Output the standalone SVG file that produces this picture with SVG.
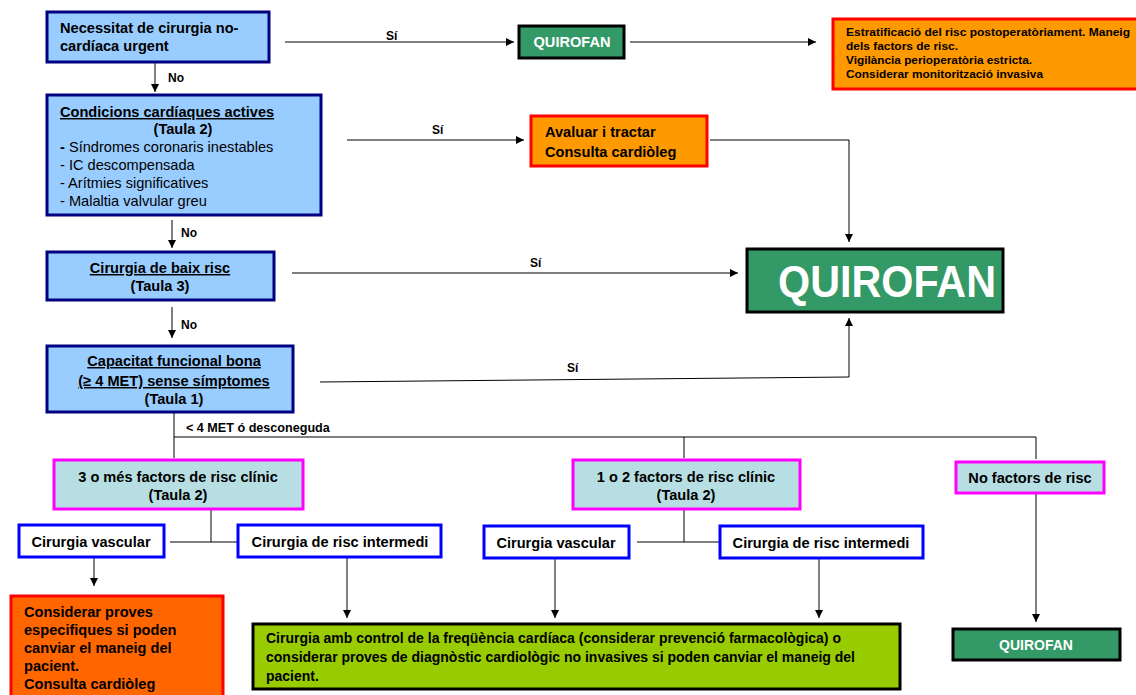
<svg xmlns="http://www.w3.org/2000/svg" width="1136" height="695" viewBox="0 0 1136 695">
<defs>
<marker id="ah" viewBox="0 0 10 10" refX="10" refY="5" markerWidth="8" markerHeight="8" markerUnits="userSpaceOnUse" orient="auto">
<path d="M0,0 L10,5 L0,10 z" fill="#000"/>
</marker>
<style>
text{font-family:"Liberation Sans",Arial,sans-serif;font-size:14.6px;font-weight:bold;fill:#000}
.c{text-anchor:middle}
.r{font-weight:normal}
.u{text-decoration:underline}
.lbl{font-size:12px}
.w{fill:#fff}
.blue{fill:#99CCFF;stroke:#000080;stroke-width:3}
.pink{fill:#B7DFE3;stroke:#FF00FF;stroke-width:3}
.wb{fill:#fff;stroke:#0000FF;stroke-width:3}
.grn{fill:#339966;stroke:#000;stroke-width:3}
.or{fill:#FF9900;stroke:#FF0000;stroke-width:3}
.or2{fill:#FF6600;stroke:#FF0000;stroke-width:3}
.lime{fill:#99CC00;stroke:#000;stroke-width:3}
.ln{fill:none;stroke:#000;stroke-width:1}
.arr{fill:none;stroke:#000;stroke-width:1;marker-end:url(#ah)}
</style>
</defs>
<rect width="1136" height="695" fill="#fff"/>

<g id="connectors">
<line class="arr" x1="155" y1="58" x2="155" y2="92"/>
<line class="arr" x1="285" y1="42" x2="514" y2="42"/>
<line class="arr" x1="630" y1="42" x2="816" y2="42"/>
<line class="arr" x1="347" y1="140" x2="524" y2="140"/>
<polyline class="arr" points="710,140 849,140 849,242"/>
<line class="arr" x1="172" y1="220" x2="172" y2="248"/>
<line class="arr" x1="292" y1="273" x2="738" y2="273"/>
<line class="arr" x1="172" y1="307" x2="172" y2="338"/>
<polyline class="arr" points="320,382 849,377 849,318"/>
<line class="ln" x1="174" y1="413" x2="174" y2="458"/>
<line class="ln" x1="174" y1="437" x2="1036" y2="437"/>
<line class="ln" x1="684" y1="437" x2="684" y2="458"/>
<line class="ln" x1="1036" y1="437" x2="1036" y2="459"/>
<line class="ln" x1="211" y1="510" x2="211" y2="542"/>
<line class="ln" x1="170" y1="542" x2="237" y2="542"/>
<line class="ln" x1="684" y1="510" x2="684" y2="542"/>
<line class="ln" x1="637" y1="542" x2="719" y2="542"/>
<line class="arr" x1="94" y1="558" x2="94" y2="586"/>
<line class="arr" x1="347" y1="558" x2="347" y2="618"/>
<line class="arr" x1="555" y1="558" x2="555" y2="618"/>
<line class="arr" x1="819" y1="558" x2="819" y2="618"/>
<line class="arr" x1="1036" y1="494" x2="1036" y2="622"/>
<text class="lbl" x="168" y="82">No</text>
<text class="lbl" x="386" y="40">Sí</text>
<text class="lbl" x="432" y="134">Sí</text>
<text class="lbl" x="181" y="237">No</text>
<text class="lbl" x="530" y="267">Sí</text>
<text class="lbl" x="181" y="329">No</text>
<text class="lbl" x="567" y="372">Sí</text>
<text class="lbl" x="186" y="432" style="font-size:12.6px">&lt; 4 MET ó desconeguda</text>
</g>

<g id="n1">
<rect class="blue" x="47" y="12" width="222" height="50"/>
<text x="60" y="33">Necessitat de cirurgia no-</text>
<text x="60" y="51">cardíaca urgent</text>
</g>

<g id="n2">
<rect class="blue" x="47" y="95" width="274" height="120"/>
<text class="u" x="60" y="117">Condicions cardíaques actives</text>
<text class="c" x="183" y="134">(Taula 2)</text>
<text x="60" y="152">- <tspan class="r">Síndromes coronaris inestables</tspan></text>
<text class="r" x="60" y="170">- IC descompensada</text>
<text class="r" x="60" y="188">- Arítmies significatives</text>
<text class="r" x="60" y="206">- Malaltia valvular greu</text>
</g>

<g id="q1">
<rect class="grn" x="519" y="26" width="105" height="32"/>
<text class="w c" x="572" y="47">QUIROFAN</text>
</g>

<g id="o1">
<rect class="or" x="833" y="19" width="310" height="70"/>
<text x="846" y="36" style="font-size:11px" textLength="284" lengthAdjust="spacingAndGlyphs">Estratificació del risc postoperatòriament.  Maneig</text>
<text x="846" y="50" style="font-size:11px" textLength="112" lengthAdjust="spacingAndGlyphs">dels factors de risc.</text>
<text x="846" y="64" style="font-size:11px" textLength="186" lengthAdjust="spacingAndGlyphs">Vigilància perioperatòria estricta.</text>
<text x="846" y="78" style="font-size:11px" textLength="197" lengthAdjust="spacingAndGlyphs">Considerar monitorització invasiva</text>
</g>

<g id="o2">
<rect class="or" x="531" y="116" width="176" height="50"/>
<text x="545" y="137">Avaluar i tractar</text>
<text x="545" y="157">Consulta cardiòleg</text>
</g>

<g id="n3">
<rect class="blue" x="47" y="252" width="227" height="48"/>
<text class="c u" x="160" y="273">Cirurgia de baix risc</text>
<text class="c" x="160" y="291">(Taula 3)</text>
</g>

<g id="qbig">
<rect class="grn" x="747" y="249" width="256" height="63"/>
<text class="w c" x="887" y="297" style="font-size:44px" textLength="218" lengthAdjust="spacingAndGlyphs">QUIROFAN</text>
</g>

<g id="n4">
<rect class="blue" x="47" y="346" width="246" height="66"/>
<text class="c u" x="174" y="366">Capacitat funcional bona</text>
<text class="c u" x="174" y="386">(≥ 4 MET) sense símptomes</text>
<text class="c" x="174" y="404">(Taula 1)</text>
</g>

<g id="p1">
<rect class="pink" x="54" y="460" width="249" height="49"/>
<text class="c" x="178" y="482">3 o més factors de risc clínic</text>
<text class="c" x="178" y="500">(Taula 2)</text>
</g>

<g id="p2">
<rect class="pink" x="573" y="460" width="227" height="49"/>
<text class="c" x="686" y="482">1 o 2 factors de risc clínic</text>
<text class="c" x="686" y="500">(Taula 2)</text>
</g>

<g id="p3">
<rect class="pink" x="956" y="462" width="148" height="31"/>
<text class="c" x="1030" y="483">No factors de risc</text>
</g>

<g id="v1">
<rect class="wb" x="19" y="525" width="145" height="32"/>
<text class="c" x="91" y="547">Cirurgia vascular</text>
</g>
<g id="i1">
<rect class="wb" x="238" y="525" width="203" height="32"/>
<text class="c" x="340" y="547">Cirurgia de risc intermedi</text>
</g>
<g id="v2">
<rect class="wb" x="484" y="526" width="145" height="32"/>
<text class="c" x="556" y="548">Cirurgia vascular</text>
</g>
<g id="i2">
<rect class="wb" x="720" y="526" width="203" height="32"/>
<text class="c" x="821" y="548">Cirurgia de risc intermedi</text>
</g>

<g id="o3">
<rect class="or2" x="11" y="596" width="212" height="102"/>
<text x="24" y="617">Considerar proves</text>
<text x="24" y="635">especifiques si poden</text>
<text x="24" y="653">canviar el maneig del</text>
<text x="24" y="671">pacient.</text>
<text x="24" y="689">Consulta cardiòleg</text>
</g>

<g id="g1">
<rect class="lime" x="253" y="624" width="647" height="65"/>
<text x="266" y="643" style="font-size:14px">Cirurgia amb control de la freqüència cardíaca (considerar prevenció farmacològica) o</text>
<text x="266" y="662" style="font-size:14px">considerar proves de diagnòstic cardiològic no invasives si poden canviar el maneig del</text>
<text x="266" y="681" style="font-size:14px">pacient.</text>
</g>

<g id="q3">
<rect class="grn" x="953" y="629" width="167" height="31"/>
<text class="w c" x="1036" y="650" style="font-size:14px">QUIROFAN</text>
</g>
</svg>
